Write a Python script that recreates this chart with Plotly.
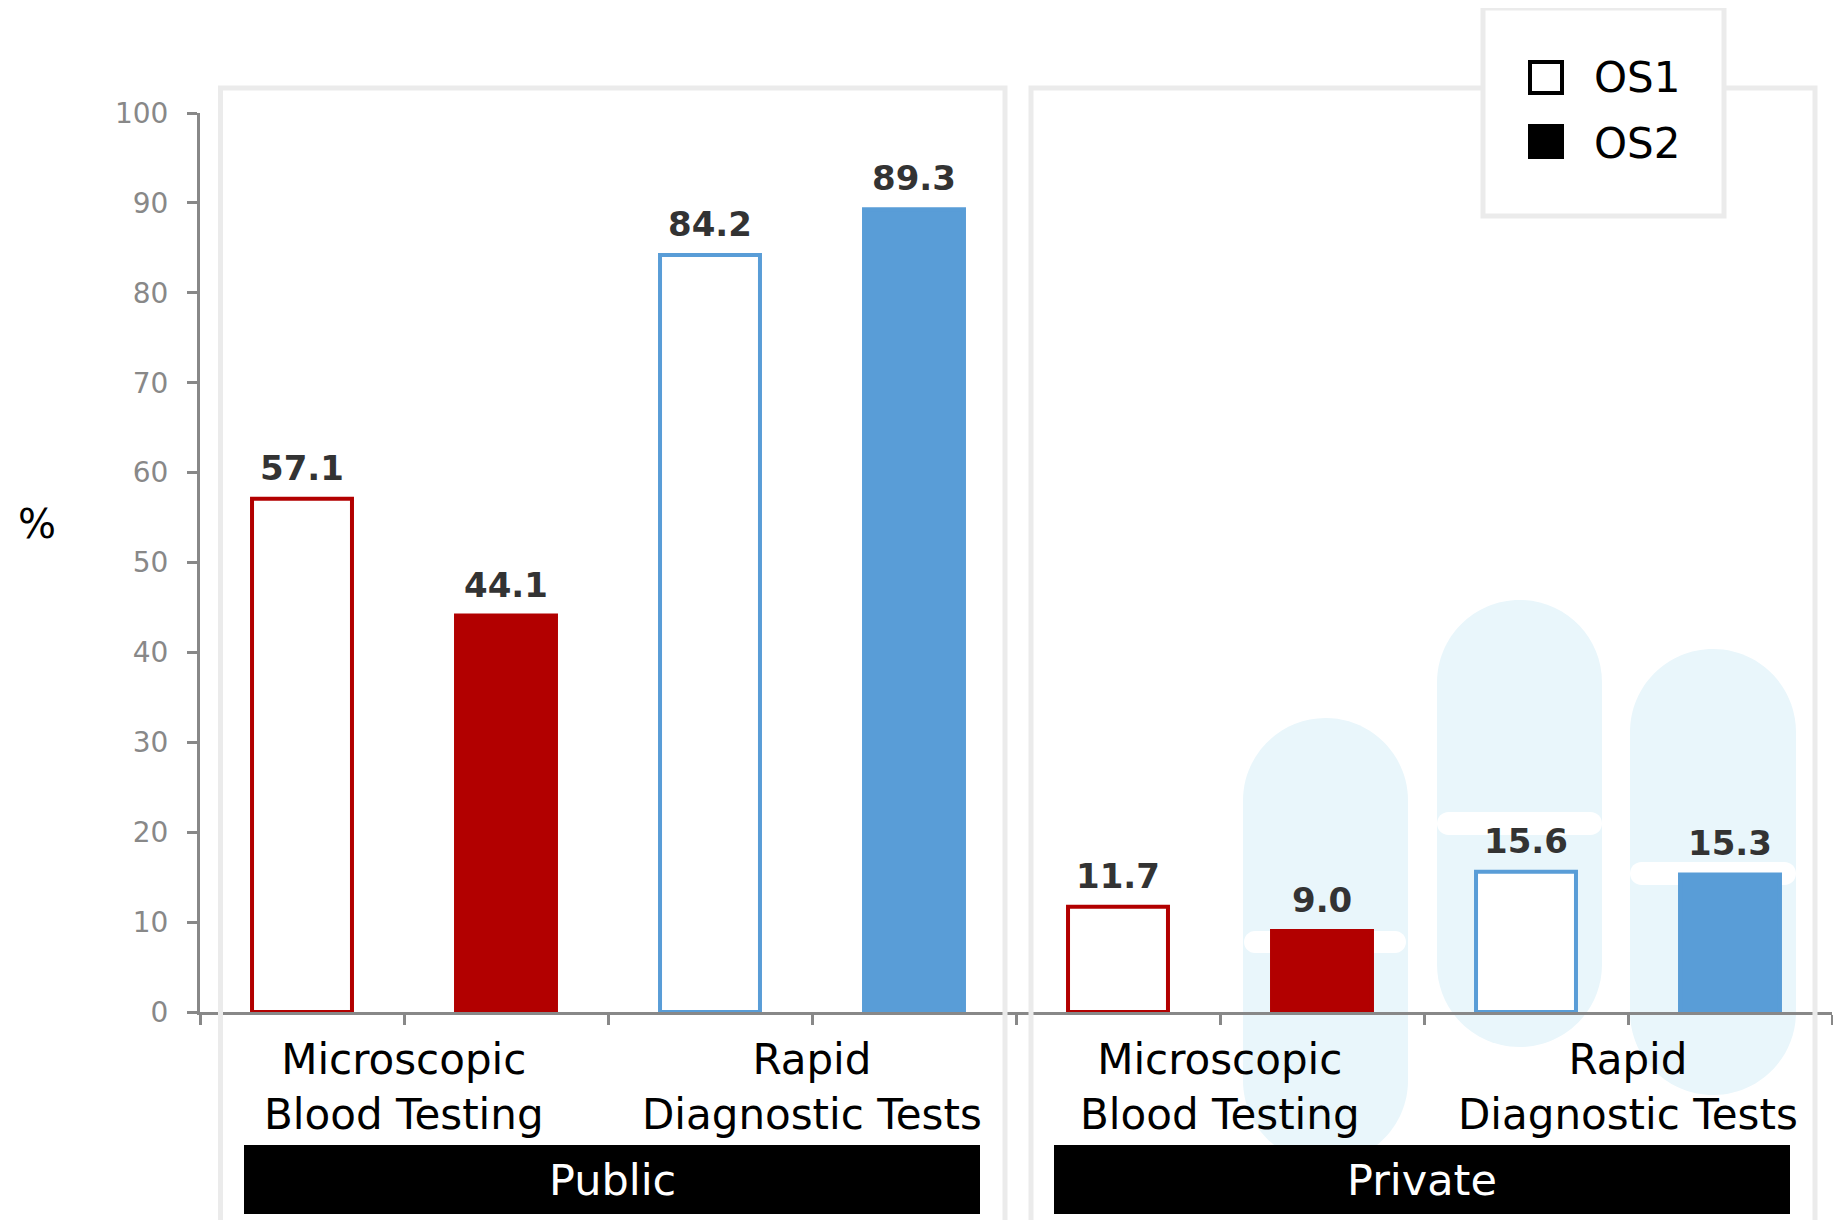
import plotly.graph_objects as go

# ---------------- data ----------------
sectors = ["Public", "Private"]
categories = [["Microscopic", "Blood Testing"], ["Rapid", "Diagnostic Tests"]]
series_names = ["OS1", "OS2"]
public_os1 = [57.1, 84.2]
public_os2 = [44.1, 89.3]
private_os1 = [11.7, 15.6]
private_os2 = [9.0, 15.3]
y_ticks = [0, 10, 20, 30, 40, 50, 60, 70, 80, 90, 100]

values = {
    ("Public", "OS1"): public_os1,
    ("Public", "OS2"): public_os2,
    ("Private", "OS1"): private_os1,
    ("Private", "OS2"): private_os2,
}
cat_colors = ["#b20000", "#599dd7"]

# ---------------- geometry helpers (page pixel coords -> paper) ----------------
OFF = 8                      # default body margin of the html page
W, H = 1825, 1212
PLOT_L, PLOT_R, PLOT_T, PLOT_B = 200, 1832, 113, 1012   # page coords of plot area
L, T = PLOT_L - OFF, PLOT_T - OFF
R = W - (PLOT_R - OFF)
B = H - (PLOT_B - OFF)
PW, PH = PLOT_R - PLOT_L, PLOT_B - PLOT_T


def px(x):
    return (x - PLOT_L) / PW


def py(y):
    return (PLOT_B - y) / PH


def rrect_path(x0, y0, x1, y1, r):
    k = 0.5523 * r
    pts = [
        ("M", [(x0 + r, y0)]),
        ("L", [(x1 - r, y0)]),
        ("C", [(x1 - r + k, y0), (x1, y0 + r - k), (x1, y0 + r)]),
        ("L", [(x1, y1 - r)]),
        ("C", [(x1, y1 - r + k), (x1 - r + k, y1), (x1 - r, y1)]),
        ("L", [(x0 + r, y1)]),
        ("C", [(x0 + r - k, y1), (x0, y1 - r + k), (x0, y1 - r)]),
        ("L", [(x0, y0 + r)]),
        ("C", [(x0, y0 + r - k), (x0 + r - k, y0), (x0 + r, y0)]),
    ]
    s = ""
    for cmd, ps in pts:
        s += cmd + " " + " ".join(f"{px(a):.5f},{py(b):.5f}" for a, b in ps) + " "
    return s + "Z"


FONT = "DejaVu Sans"
fig = go.Figure()

# ---------------- bars ----------------
annotations = []
for si, sector in enumerate(sectors):
    for ki, sname in enumerate(series_names):
        vals = values[(sector, sname)]
        xs = [si * 4 + ci * 2 + ki + 0.5 for ci in range(len(categories))]
        cols = cat_colors[: len(vals)]
        fig.add_trace(go.Bar(
            x=xs, y=vals, width=0.49,
            marker=dict(color=["white"] * len(vals) if sname == "OS1" else cols,
                        line=dict(color=cols, width=4)),
            showlegend=False, hoverinfo="skip",
        ))
        for x, v in zip(xs, vals):
            annotations.append(dict(
                x=x, y=v, xref="x", yref="y", text=f"<b>{v:.1f}</b>",
                showarrow=False, yanchor="middle", yshift=31,
                font=dict(family=FONT, size=34, color="#333333")))

# category labels
for si, sector in enumerate(sectors):
    for ci, lines in enumerate(categories):
        xc = si * 4 + ci * 2 + 1
        annotations.append(dict(
            x=xc, y=py(1087), xref="x", yref="paper", text="<br>".join(lines),
            showarrow=False, xanchor="center", yanchor="middle", align="center",
            font=dict(family=FONT, size=42, color="black")))

shapes = []
# decorative light pills (private panel)
pill_color = "#e9f6fb"
for (x0, y0, x1, y1) in [(1243, 718, 1408, 1163), (1437, 600, 1602, 1047), (1630, 649, 1796, 1095)]:
    shapes.append(dict(type="path", xref="paper", yref="paper", layer="below",
                       path=rrect_path(x0, y0, x1, y1, (x1 - x0) / 2),
                       fillcolor=pill_color, line=dict(width=0)))
for (x0, y0, x1, y1) in [(1244, 931, 1406, 953), (1437, 812, 1602, 835), (1630, 862, 1796, 885)]:
    shapes.append(dict(type="path", xref="paper", yref="paper", layer="below",
                       path=rrect_path(x0, y0, x1, y1, (y1 - y0) / 2),
                       fillcolor="white", line=dict(width=0)))

# panel borders
for (x0, x1) in [(220.5, 1005), (1031, 1815)]:
    shapes.append(dict(type="rect", xref="paper", yref="paper", layer="above",
                       x0=px(x0), x1=px(x1), y0=py(88), y1=py(1260),
                       line=dict(color="#ebebeb", width=5), fillcolor="rgba(0,0,0,0)"))

# sector boxes
for sector, (x0, x1) in zip(sectors, [(244, 980), (1054, 1790)]):
    shapes.append(dict(type="rect", xref="paper", yref="paper", layer="above",
                       x0=px(x0), x1=px(x1), y0=py(1145), y1=py(1214),
                       line=dict(width=0), fillcolor="black"))
    annotations.append(dict(x=px((x0 + x1) / 2), y=py(1180), xref="paper", yref="paper",
                            text=sector, showarrow=False, xanchor="center", yanchor="middle",
                            font=dict(family=FONT, size=43, color="white")))

# legend
shapes.append(dict(type="rect", xref="paper", yref="paper", layer="above",
                   x0=px(1483), x1=px(1724), y0=py(8), y1=py(216),
                   line=dict(color="#ebebeb", width=5), fillcolor="white"))
shapes.append(dict(type="rect", xref="paper", yref="paper", layer="above",
                   x0=px(1530), x1=px(1562), y0=py(62), y1=py(93),
                   line=dict(color="black", width=4), fillcolor="white"))
shapes.append(dict(type="rect", xref="paper", yref="paper", layer="above",
                   x0=px(1528), x1=px(1564), y0=py(124), y1=py(159),
                   line=dict(width=0), fillcolor="black"))
for name, ypx in zip(series_names, [77, 143]):
    annotations.append(dict(x=px(1592), y=py(ypx), xref="paper", yref="paper", text=name,
                            showarrow=False, xanchor="left", yanchor="middle",
                            font=dict(family=FONT, size=42, color="black")))

# y title
annotations.append(dict(x=px(37), y=py(524), xref="paper", yref="paper", text="%",
                        showarrow=False, xanchor="center", yanchor="middle",
                        font=dict(family=FONT, size=40, color="black")))

fig.update_layout(
    width=W, height=H,
    margin=dict(l=L, r=R, t=T, b=B, pad=0),
    paper_bgcolor="white", plot_bgcolor="rgba(0,0,0,0)",
    barmode="overlay",
    shapes=shapes, annotations=annotations,
    xaxis=dict(range=[0, 8], showgrid=False, zeroline=False, showline=True,
               linecolor="#888888", linewidth=3, ticks="outside", ticklen=10,
               tickwidth=2.5, tickcolor="#888888", tickvals=list(range(9)),
               showticklabels=False, fixedrange=True),
    yaxis=dict(range=[0, 100], showgrid=False, zeroline=False, showline=True,
               linecolor="#888888", linewidth=3, ticks="outside", ticklen=10,
               tickwidth=2.5, tickcolor="#888888", tickvals=y_ticks,
               tickfont=dict(family=FONT, size=28, color="#888888"),
               ticklabelstandoff=13, fixedrange=True),
)

fig.write_html("out.html")
